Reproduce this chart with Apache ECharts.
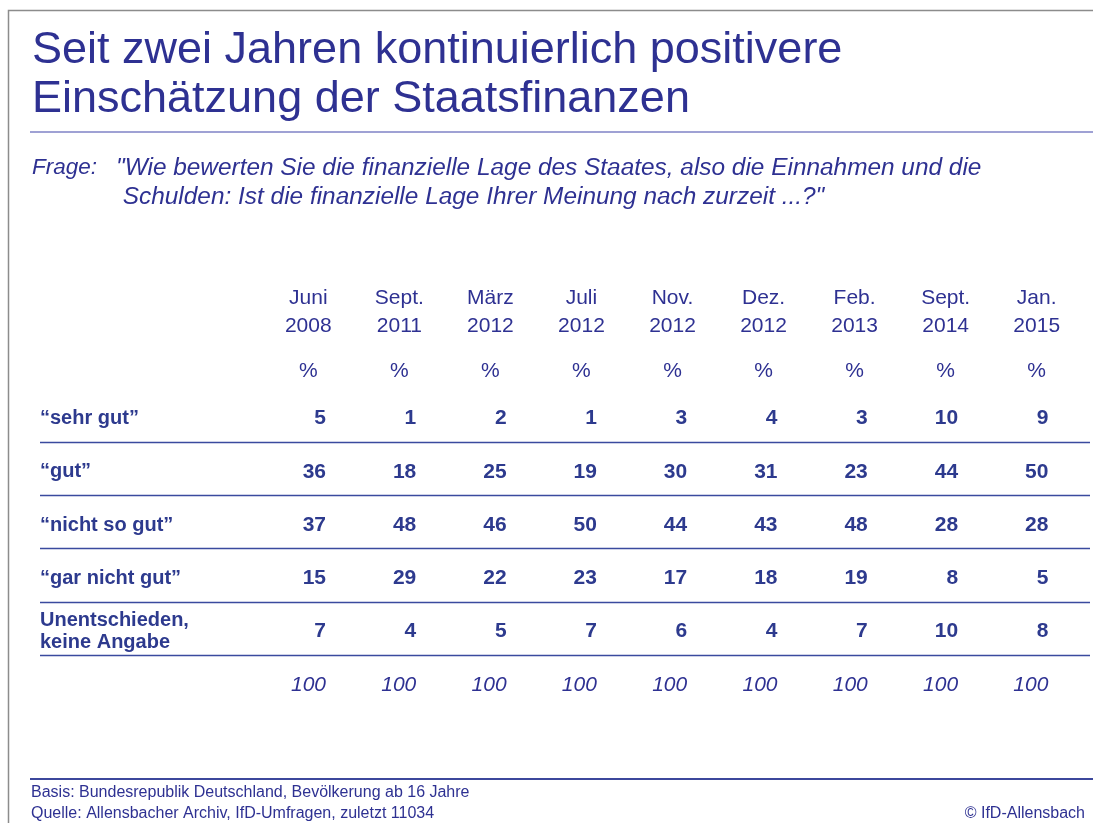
<!DOCTYPE html>
<html><head><meta charset="utf-8">
<script src="https://cdn.jsdelivr.net/npm/echarts@6/dist/echarts.min.js"></script>
<style>html,body{margin:0;padding:0;background:#fff}#c{width:1093px;height:823px}</style>
</head><body><div id="c"></div>
<script>
// ---------- data ----------
const titleLines = ['Seit zwei Jahren kontinuierlich positivere', 'Einschätzung der Staatsfinanzen'];
const questionLabel = 'Frage:';
const questionLines = ['"Wie bewerten Sie die finanzielle Lage des Staates, also die Einnahmen und die', ' Schulden: Ist die finanzielle Lage Ihrer Meinung nach zurzeit ...?"'];
const months = ['Juni', 'Sept.', 'März', 'Juli', 'Nov.', 'Dez.', 'Feb.', 'Sept.', 'Jan.'];
const years = ['2008', '2011', '2012', '2012', '2012', '2012', '2013', '2014', '2015'];
const unitLabel = '%';
const rowLabels = ['\u201Csehr gut\u201D', '\u201Cgut\u201D', '\u201Cnicht so gut\u201D', '\u201Cgar nicht gut\u201D', 'Unentschieden,\nkeine Angabe', ''];
const sehrGut = [5, 1, 2, 1, 3, 4, 3, 10, 9];
const gut = [36, 18, 25, 19, 30, 31, 23, 44, 50];
const nichtSoGut = [37, 48, 46, 50, 44, 43, 48, 28, 28];
const garNichtGut = [15, 29, 22, 23, 17, 18, 19, 8, 5];
const unentschieden = [7, 4, 5, 7, 6, 4, 7, 10, 8];
const totals = [100, 100, 100, 100, 100, 100, 100, 100, 100];
const separatorsAfterRow = [1, 2, 3, 4, 5];
const footnotes = ['Basis: Bundesrepublik Deutschland, Bevölkerung ab 16 Jahre', 'Quelle: Allensbacher Archiv, IfD-Umfragen, zuletzt 11034'];
const copyright = '\u00A9 IfD-Allensbach';

// ---------- style ----------
const FONT = '"Liberation Sans", Arial, sans-serif';
const BLUE = '#2e3192';
const VAL = '#2d3a8e';
const W = 1093, H = 823;

const columns = months.map((m, i) => m + '\n' + years[i]);
const rowSeries = [sehrGut, gut, nichtSoGut, garNichtGut, unentschieden];

// geometry of the table
const rowH = 53.3;
const tableTop = 418.5 - rowH / 2;
const tableBottom = H - (tableTop + rowH * rowLabels.length);
const valColW = 90.3;
const valLeft = 309 - valColW / 2;
const valRight = W - valLeft - valColW * columns.length;
const hdrColW = 91.05;
const hdrLeft = 308.3 - hdrColW / 2;
const hdrRight = W - hdrLeft - hdrColW * columns.length;

const chart = echarts.init(document.getElementById('c'), null, { renderer: 'canvas' });

const series = [];
function valueLabel(extra) {
  return Object.assign({
    show: true, position: 'inside', align: 'right', verticalAlign: 'middle', offset: [17, 0],
    formatter: p => String(p.value[2]),
    color: VAL, fontFamily: FONT, fontSize: 21, opacity: 1
  }, extra);
}
rowSeries.forEach((vals, r) => {
  series.push({
    type: 'scatter', xAxisIndex: 3, yAxisIndex: 2,
    symbolSize: 1, itemStyle: { color: 'transparent', opacity: 1 }, silent: true,
    data: vals.map((v, c) => [c, r, v]),
    label: valueLabel({ fontWeight: 'bold' })
  });
});
series.push({
  type: 'scatter', xAxisIndex: 3, yAxisIndex: 2,
  symbolSize: 1, itemStyle: { color: 'transparent', opacity: 1 }, silent: true,
  data: totals.map((v, c) => [c, rowLabels.length - 1, v]),
  label: valueLabel({ color: BLUE, fontStyle: 'italic', fontWeight: 'normal' })
});
series.push({
  type: 'line', xAxisIndex: 2, yAxisIndex: 1, data: [], silent: true,
  markLine: {
    silent: true, symbol: ['none', 'none'], label: { show: false },
    lineStyle: { color: '#3a4a9e', width: 1.4, type: 'solid', opacity: 1 },
    emphasis: { disabled: true },
    data: separatorsAfterRow.map(v => ({ yAxis: v }))
  }
});

chart.setOption({
  animation: false,
  backgroundColor: '#fff',
  title: [
    { text: titleLines.join('\n'), left: 32, top: 26, padding: 0,
      textStyle: { fontFamily: FONT, fontSize: 45, fontWeight: 'normal', color: BLUE, lineHeight: 49 } },
    { text: questionLabel, left: 32, top: 153, padding: 0,
      textStyle: { fontFamily: FONT, fontSize: 22.5, fontWeight: 'normal', fontStyle: 'italic', color: BLUE, lineHeight: 29.5 } },
    { text: questionLines.join('\n'), left: 116, top: 153, padding: 0,
      textStyle: { fontFamily: FONT, fontSize: 24.4, fontWeight: 'normal', fontStyle: 'italic', color: BLUE, lineHeight: 29.5 } },
    { text: footnotes.join('\n'), left: 31, top: 782, padding: 0,
      textStyle: { fontFamily: FONT, fontSize: 16, fontWeight: 'normal', color: BLUE, lineHeight: 21 } },
    { text: copyright, right: 8, top: 803, padding: 0,
      textStyle: { fontFamily: FONT, fontSize: 16, fontWeight: 'normal', color: BLUE, lineHeight: 21 } }
  ],
  grid: [
    { left: hdrLeft, right: hdrRight, top: 345, height: 10 },
    { left: 40, right: 3, top: tableTop - 3.2, bottom: tableBottom + 3.2 },
    { left: valLeft, right: valRight, top: tableTop, bottom: tableBottom }
  ],
  xAxis: [
    { gridIndex: 0, type: 'category', position: 'top', data: columns,
      axisLine: { show: false }, axisTick: { show: false }, splitLine: { show: false },
      axisLabel: { interval: 0, margin: 5, color: BLUE, fontFamily: FONT, fontSize: 21, lineHeight: 28, align: 'center' } },
    { gridIndex: 0, type: 'category', position: 'bottom', data: columns,
      axisLine: { show: false }, axisTick: { show: false }, splitLine: { show: false },
      axisLabel: { interval: 0, margin: 2, formatter: () => unitLabel, color: BLUE, fontFamily: FONT, fontSize: 21, lineHeight: 28 } },
    { gridIndex: 1, type: 'value', min: 0, max: 1, show: false },
    { gridIndex: 2, type: 'category', data: columns, show: false }
  ],
  yAxis: [
    { gridIndex: 0, type: 'value', show: false },
    { gridIndex: 1, type: 'value', min: 0, max: rowLabels.length, inverse: true, show: false },
    { gridIndex: 2, type: 'category', data: rowLabels, inverse: true,
      axisLine: { show: false }, axisTick: { show: false }, splitLine: { show: false },
      axisLabel: { interval: 0, margin: valLeft - 40, align: 'left', color: VAL, fontFamily: FONT,
        fontWeight: 'bold', fontSize: 20, lineHeight: 22 } }
  ],
  graphic: [
    { type: 'polyline', silent: true, shape: { points: [[8.5, H], [8.5, 10.5], [W, 10.5]] },
      style: { stroke: '#8c8c8c', lineWidth: 1.5, fill: null } },
    { type: 'line', silent: true, shape: { x1: 30, y1: 132, x2: W, y2: 132 },
      style: { stroke: '#7f82c6', lineWidth: 1.5 } },
    { type: 'line', silent: true, shape: { x1: 30, y1: 779, x2: W, y2: 779 },
      style: { stroke: '#3c479c', lineWidth: 2 } }
  ],
  series: series
});
</script>
</body></html>
